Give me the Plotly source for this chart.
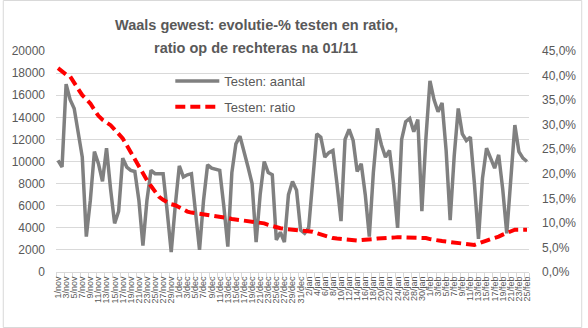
import datetime as dt
import plotly.graph_objects as go

start = dt.date(2020, 11, 1)
months = {11: "nov", 12: "dec", 1: "jan", 2: "feb"}
n_days = 117
dates = [start + dt.timedelta(days=i) for i in range(n_days)]
categories = [f"{d.day}/{months[d.month]}" for d in dates]

testen_aantal = [
    10100, 9500, 17000, 15600, 14800, 12800, 10400, 3200, 6500, 10900,
    9800, 8200, 11200, 7500, 4400, 5500, 10300, 9500, 9200, 9100,
    6500, 2400, 6500, 9200, 8900, 8900, 8900, 5500, 1800, 6000,
    9600, 8600, 8800, 8900, 5500, 2000, 6500, 9700, 9400, 9300,
    9200, 6000, 2300, 9000, 11600, 12300, 11000, 9500, 8000, 2700,
    7000, 10000, 9000, 8800, 2900, 3600, 2700, 7000, 8200, 7400,
    3800, 3500, 4000, 8500, 12500, 12200, 10400, 10800, 11000, 8000,
    4600, 12000, 12900, 11900, 9100, 9800, 7000, 3200, 9000, 13000,
    11500, 10400, 11000, 8000, 4000, 12000, 13600, 13900, 12700, 13800,
    5500, 12100, 17300, 15600, 14500, 15300, 11000, 4700, 10500, 14800,
    12500, 11900, 12200, 8000, 3000, 8500, 11200, 10300, 9400, 10600,
    7500, 3500, 9000, 13300, 10900, 10300, 10000,
]

testen_ratio = [
    41.5, 40.8, 40.2, 39.8, 38.5, 37.0, 36.0, 35.2, 34.3, 33.0,
    31.8, 31.0, 30.5, 29.9, 29.0, 28.1, 27.2, 25.8, 24.3, 22.8,
    21.4, 20.0, 18.7, 17.5, 16.4, 15.3, 14.7, 14.2, 13.8, 13.6,
    13.1, 12.7, 12.3, 12.1, 12.0, 11.8, 11.7, 11.6, 11.6, 11.4,
    11.2, 11.1, 11.0, 10.8, 10.7, 10.6, 10.4, 10.2, 10.1, 10.0,
    10.0, 9.9, 9.6, 9.3, 9.1, 8.9, 8.8, 8.7, 8.7, 8.6,
    8.5, 8.5, 8.4, 8.2, 7.9, 7.6, 7.3, 7.1, 6.9, 6.8,
    6.7, 6.6, 6.5, 6.4, 6.4, 6.5, 6.5, 6.6, 6.7, 6.8,
    6.8, 6.9, 7.0, 7.0, 7.1, 7.1, 7.1, 7.1, 7.1, 7.0,
    7.0, 6.9, 6.7, 6.5, 6.4, 6.3, 6.2, 6.1, 5.9, 5.8,
    5.7, 5.6, 5.6, 5.5, 5.8, 6.2, 6.4, 6.7, 6.9, 7.2,
    7.6, 7.9, 8.3, 8.6, 8.6, 8.6, 8.6,
]

left_ticks = list(range(0, 20001, 2000))
left_labels = [str(v) for v in left_ticks]
right_ticks = list(range(0, 46, 5))
right_labels = [f"{v},0%" for v in right_ticks]
title_lines = ["Waals gewest: evolutie-% testen en ratio,", "ratio op de rechteras na 01/11"]

TXT = "#595959"
GRID = "#d9d9d9"
FONT = "Liberation Sans"

fig = go.Figure()
fig.add_trace(go.Scatter(
    x=categories, y=testen_aantal, name="Testen: aantal", mode="lines",
    line=dict(color="#808080", width=3.5), legendgroup="a",
))
fig.add_trace(go.Scatter(
    x=categories, y=testen_ratio, name="Testen: ratio", mode="lines", yaxis="y2",
    line=dict(color="#ff0000", width=4, dash="10px,5px"), legendgroup="b",
))

W, H = 588, 328
ml, mr, mt, mb = 54, 54, 51, 56
pw, ph = W - ml - mr, H - mt - mb

def px_x(p):
    return (p - ml) / pw

def px_y(p):
    return (H - mb - p) / ph

fig.update_layout(
    width=W, height=H,
    margin=dict(l=ml, r=mr, t=mt, b=mb),
    paper_bgcolor="white", plot_bgcolor="white",
    font=dict(family=FONT, color=TXT),
    showlegend=True,
    legend=dict(
        x=px_x(170), y=px_y(66), xanchor="left", yanchor="top",
        bgcolor="rgba(0,0,0,0)", font=dict(size=13, color=TXT, family=FONT),
        traceorder="grouped", tracegroupgap=6, itemwidth=44,
    ),
    xaxis=dict(
        type="category", tickmode="array", tickvals=categories[::2],
        tickangle=-90, tickfont=dict(size=9, color=TXT),
        showgrid=False, showline=True, linecolor=GRID, linewidth=1,
        ticks="outside", ticklen=5, tickcolor=GRID, tickson="boundaries",
        range=[-0.5, n_days - 0.5],
    ),
    yaxis=dict(
        range=[0, 20000], tickmode="array", tickvals=left_ticks, ticktext=left_labels,
        showgrid=True, gridcolor=GRID, gridwidth=1, zeroline=False,
        tickfont=dict(size=12, color=TXT), ticklabelstandoff=10,
    ),
    yaxis2=dict(
        range=[0, 45], overlaying="y", side="right", tickmode="array",
        tickvals=right_ticks, ticktext=right_labels, showgrid=False,
        zeroline=False, tickfont=dict(size=12, color=TXT), ticklabelstandoff=12,
    ),
    annotations=[
        dict(text=f"<b>{title_lines[0]}</b>", x=px_x(257), y=px_y(25), xref="paper", yref="paper",
             showarrow=False, xanchor="center", yanchor="middle", font=dict(size=14.5, color=TXT, family=FONT)),
        dict(text=f"<b>{title_lines[1]}</b>", x=px_x(257), y=px_y(48), xref="paper", yref="paper",
             showarrow=False, xanchor="center", yanchor="middle", font=dict(size=14.5, color=TXT, family=FONT)),
    ],
    shapes=[
        dict(type="rect", xref="paper", yref="paper", x0=px_x(0.5), x1=px_x(587.5), y0=px_y(327.5), y1=px_y(0.5),
             line=dict(color=GRID, width=1), layer="below"),
    ],
)

fig.write_html("out.html")
